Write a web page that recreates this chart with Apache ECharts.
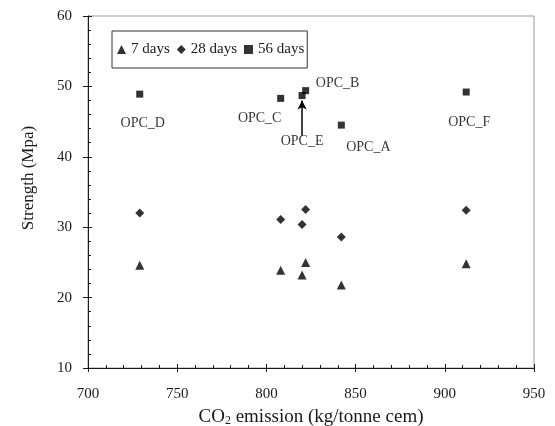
<!DOCTYPE html>
<html>
<head>
<meta charset="utf-8">
<script src="https://cdn.jsdelivr.net/npm/echarts@6/dist/echarts.min.js"></script>
<style>
  html, body { margin: 0; padding: 0; background: #fff; }
  #chart { width: 555px; height: 426px; }
</style>
</head>
<body>
<div id="chart"></div>
<script>
// cement types and their CO2 emission (kg/tonne cem)
const mixes = ['OPC_A', 'OPC_B', 'OPC_C', 'OPC_D', 'OPC_E', 'OPC_F'];
const co2 = [842, 822, 808, 729, 820, 912];

// compressive strength (Mpa)
const days7 = [21.8, 25.0, 23.9, 24.6, 23.2, 24.8];
const days28 = [28.6, 32.5, 31.1, 32.0, 30.4, 32.4];
const days56 = [44.5, 49.4, 48.3, 48.9, 48.7, 49.2];

// arrow pointing at OPC_E (x, y from -> y to)
const arrowE = [820, 43.0, 48.0];

const font = 'Liberation Serif';
const ink = '#1a1a1a';

// where each name sits relative to its 56-day point
const labelOffsets = {
  OPC_A: [27, 22],
  OPC_B: [32, -7],
  OPC_C: [-21, 20],
  OPC_D: [3, 29],
  OPC_E: [0, 46],
  OPC_F: [3, 30]
};

const pts = (vals) => co2.map((x, i) => [x, vals[i]]);

const chart = echarts.init(document.getElementById('chart'));

const option = {
  animation: false,
  backgroundColor: '#fff',
  grid: {
    left: 88, top: 16, right: 21, bottom: 58,
    outerBoundsMode: 'none',
    show: true, borderColor: '#999', borderWidth: 1
  },
  legend: {
    left: 112, top: 31,
    orient: 'horizontal',
    borderColor: '#333', borderWidth: 1, borderRadius: 0,
    padding: [11, 3, 11, 5],
    itemGap: 7, itemWidth: 9, itemHeight: 9,
    textStyle: { fontFamily: font, fontSize: 15, color: ink },
    data: [
      { name: '7 days', icon: 'triangle' },
      { name: '28 days', icon: 'diamond' },
      { name: '56 days', icon: 'rect' }
    ]
  },
  xAxis: [
    {
      type: 'value', min: 700, max: 950, interval: 50, position: 'bottom',
      axisLine: { lineStyle: { color: ink, width: 1 } },
      axisTick: { inside: false, length: 4, lineStyle: { color: ink } },
      axisLabel: { fontFamily: font, fontSize: 15, color: ink, margin: 19 },
      splitLine: { show: false },
      name: 'CO{sub|2} emission (kg/tonne cem)',
      nameLocation: 'middle', nameGap: 40,
      nameTextStyle: {
        fontFamily: font, fontSize: 19, color: ink,
        rich: { sub: { fontFamily: font, fontSize: 12, color: ink, verticalAlign: 'bottom', padding: [7, 0, 0, 0] } }
      }
    },
    {
      type: 'value', min: 700, max: 950, interval: 50, position: 'bottom',
      axisLine: { show: false },
      axisTick: { inside: true, length: 4, lineStyle: { color: ink } },
      minorTick: { show: true, splitNumber: 5, length: 3, lineStyle: { color: ink } },
      axisLabel: { show: false },
      splitLine: { show: false }
    }
  ],
  yAxis: [
    {
      type: 'value', min: 10, max: 60, interval: 10, position: 'left',
      axisLine: { show: true, lineStyle: { color: ink, width: 1 } },
      axisTick: { show: true, inside: false, length: 5, lineStyle: { color: ink } },
      axisLabel: { fontFamily: font, fontSize: 15, color: ink, margin: 16 },
      splitLine: { show: false },
      name: 'Strength (Mpa)',
      nameLocation: 'middle', nameGap: 51,
      nameTextStyle: { fontFamily: font, fontSize: 17, color: ink, padding: [0, 0, 0, 28] }
    },
    {
      type: 'value', min: 10, max: 60, interval: 10, position: 'left',
      axisLine: { show: false },
      axisTick: { show: true, inside: true, length: 4, lineStyle: { color: ink } },
      minorTick: { show: true, splitNumber: 5, length: 3, lineStyle: { color: ink } },
      axisLabel: { show: false },
      splitLine: { show: false }
    }
  ],
  series: [
    {
      name: '7 days', type: 'scatter', symbol: 'triangle', symbolSize: 9,
      itemStyle: { color: '#000' },
      data: pts(days7)
    },
    {
      name: '28 days', type: 'scatter', symbol: 'diamond', symbolSize: 9,
      itemStyle: { color: '#000' },
      data: pts(days28)
    },
    {
      name: '56 days', type: 'scatter', symbol: 'rect', symbolSize: 7,
      itemStyle: { color: '#000' },
      data: pts(days56).map((p, i) => ({
        value: p,
        label: {
          show: true, formatter: mixes[i], position: 'inside',
          offset: labelOffsets[mixes[i]],
          fontFamily: font, fontSize: 14, color: '#000',
          textBorderWidth: 0, textBorderColor: 'transparent'
        }
      })),
      markLine: {
        silent: true, animation: false,
        symbol: ['none', 'arrow'], symbolSize: [7, 9],
        label: { show: false },
        lineStyle: { color: '#000', width: 1.5, type: 'solid' },
        data: [[{ coord: [arrowE[0], arrowE[1]] }, { coord: [arrowE[0], arrowE[2]] }]]
      }
    }
  ]
};

chart.setOption(option);
</script>
</body>
</html>
